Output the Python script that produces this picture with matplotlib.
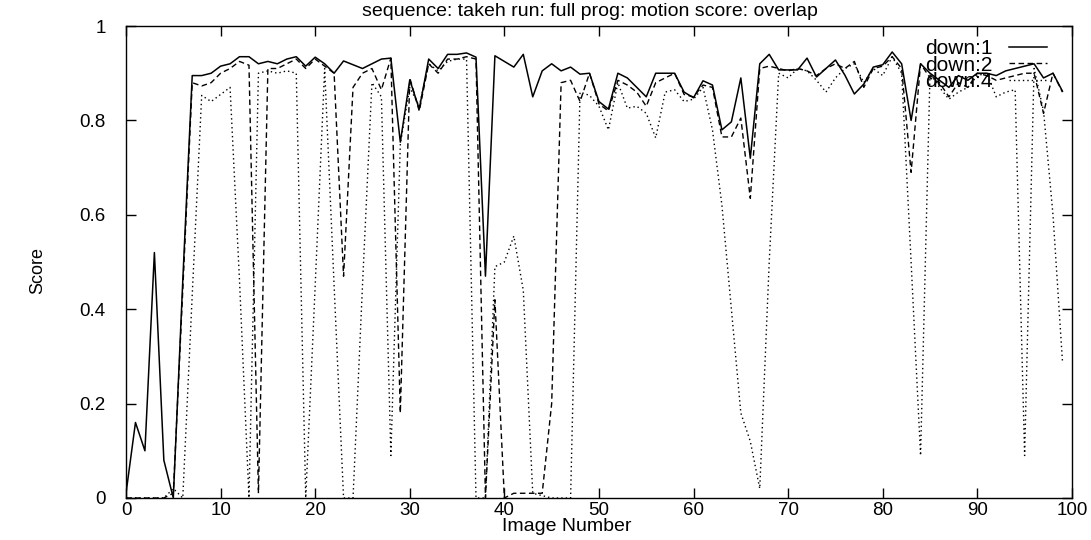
import numpy as np
import matplotlib
matplotlib.use("Agg")
import matplotlib.pyplot as plt

plt.rcParams['font.family'] = ['Liberation Sans', 'DejaVu Sans']

image_number = list(range(100))

# down:1 (solid)
down1 = [0.01, 0.16, 0.10, 0.52, 0.08, 0.0, 0.46, 0.895, 0.895, 0.90,
         0.915, 0.92, 0.935, 0.935, 0.92, 0.925, 0.92, 0.93, 0.935, 0.915,
         0.934, 0.92, 0.90, 0.926, 0.918, 0.91, 0.92, 0.93, 0.932, 0.754,
         0.886, 0.824, 0.93, 0.91, 0.94, 0.94, 0.943, 0.934, 0.47, 0.937,
         0.925, 0.913, 0.94, 0.85, 0.905, 0.92, 0.905, 0.913, 0.898, 0.90,
         0.84, 0.824, 0.90, 0.89, 0.87, 0.85, 0.90, 0.90, 0.90, 0.86,
         0.848, 0.884, 0.875, 0.78, 0.797, 0.89, 0.72, 0.92, 0.94, 0.907,
         0.907, 0.907, 0.932, 0.892, 0.91, 0.928, 0.896, 0.856, 0.877, 0.913,
         0.918, 0.945, 0.92, 0.80, 0.92, 0.90, 0.885, 0.87, 0.895, 0.885,
         0.90, 0.90, 0.895, 0.905, 0.91, 0.915, 0.92, 0.89, 0.90, 0.862]

# down:2 (dashed)
down2 = [0.0, 0.0, 0.0, 0.0, 0.0, 0.01, 0.44, 0.88, 0.873, 0.88,
         0.90, 0.91, 0.925, 0.917, 0.01, 0.91, 0.91, 0.92, 0.93, 0.91,
         0.93, 0.915, 0.90, 0.47, 0.87, 0.90, 0.91, 0.865, 0.932, 0.18,
         0.89, 0.82, 0.92, 0.90, 0.93, 0.93, 0.935, 0.93, 0.0, 0.42,
         0.0, 0.01, 0.01, 0.01, 0.01, 0.20, 0.88, 0.885, 0.84, 0.90,
         0.835, 0.82, 0.885, 0.875, 0.86, 0.83, 0.88, 0.89, 0.90, 0.855,
         0.85, 0.875, 0.87, 0.765, 0.765, 0.805, 0.635, 0.91, 0.915, 0.91,
         0.905, 0.91, 0.905, 0.895, 0.91, 0.92, 0.91, 0.925, 0.87, 0.91,
         0.915, 0.935, 0.91, 0.69, 0.92, 0.89, 0.88, 0.85, 0.88, 0.87,
         0.90, 0.895, 0.885, 0.89, 0.895, 0.90, 0.90, 0.815, 0.90, 0.86]

# down:4 (dotted)
down4 = [0.0, 0.0, 0.0, 0.0, 0.0, 0.02, 0.0, 0.43, 0.853, 0.84,
         0.855, 0.87, 0.46, 0.0, 0.90, 0.905, 0.90, 0.905, 0.90, 0.0,
         0.45, 0.91, 0.45, 0.0, 0.0, 0.45, 0.88, 0.85, 0.09, 0.75,
         0.87, 0.83, 0.92, 0.905, 0.925, 0.93, 0.93, 0.0, 0.0, 0.49,
         0.50, 0.555, 0.44, 0.01, 0.005, 0.0, 0.0, 0.0, 0.86, 0.853,
         0.83, 0.78, 0.88, 0.826, 0.83, 0.815, 0.763, 0.86, 0.865, 0.84,
         0.845, 0.87, 0.78, 0.62, 0.40, 0.18, 0.12, 0.02, 0.50, 0.90,
         0.89, 0.91, 0.905, 0.885, 0.86, 0.89, 0.91, 0.92, 0.88, 0.91,
         0.895, 0.935, 0.90, 0.50, 0.09, 0.90, 0.87, 0.845, 0.86, 0.87,
         0.895, 0.90, 0.85, 0.86, 0.865, 0.09, 0.91, 0.82, 0.60, 0.29]

x_ticks = [0, 10, 20, 30, 40, 50, 60, 70, 80, 90, 100]
y_ticks = [0, 0.2, 0.4, 0.6, 0.8, 1]
y_tick_labels = ["0", "0.2", "0.4", "0.6", "0.8", "1"]

fig = plt.figure(figsize=(10.91, 5.40), dpi=100)
ax = fig.add_axes([0.1155, 0.0778, 0.867, 0.874])

ax.plot(image_number, down1, color="black", lw=1.1, ls="-", label="down:1")
ax.plot(image_number, down2, color="black", lw=1.0, ls=(0, (4, 2.5)), label="down:2")
ax.plot(image_number, down4, color="black", lw=1.0, ls=(0, (1, 2.2)), label="down:4")

ax.set_xlim(0, 100)
ax.set_ylim(0, 1)
ax.set_xticks(x_ticks)
ax.set_yticks(y_ticks)
ax.set_yticklabels(y_tick_labels)
ax.tick_params(direction="in", length=7, width=1, top=True, right=True,
               labelsize=13.5)
ax.tick_params(axis="y", pad=14.5)
ax.tick_params(axis="x", pad=3)
for s in ax.spines.values():
    s.set_linewidth(1.0)

ax.set_title("sequence: takeh run: full prog: motion score: overlap",
             fontsize=14, pad=7, x=0.49)
ax.set_xlabel("Image Number", fontsize=14, labelpad=-1, x=0.466)
fig.text(38 / 1091, 0.5, "Score", rotation=90, ha="center", va="center",
         fontsize=13, family=["Liberation Sans Narrow", "Liberation Sans", "DejaVu Sans"])

leg = ax.legend(loc="upper right", frameon=False, fontsize=15,
                handlelength=1.85, handletextpad=0.8, labelspacing=-0.12,
                markerfirst=False, bbox_to_anchor=(0.983, 0.99),
                borderaxespad=0.0)

fig.savefig("out.png", dpi=100)
